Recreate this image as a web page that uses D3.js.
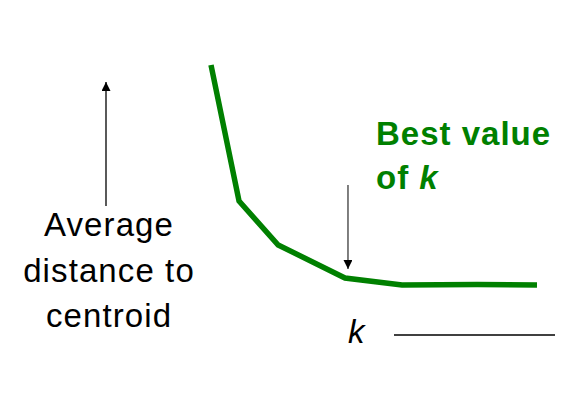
<!DOCTYPE html>
<html>
<head>
<meta charset="utf-8">
<script src="https://cdn.jsdelivr.net/npm/d3@7"></script>
<style>
  body { margin: 0; background: #fff; }
  text { font-family: "Liberation Sans", Arial, sans-serif; }
</style>
</head>
<body>
<div id="chart"></div>
<script>
// Elbow curve: relative position along k vs average distance to centroid
const kPos = [0, 8.6, 20.6, 41.1, 58.6, 81.6, 100]
const avgDist = [100, 38.2, 18.2, 3.2, 0, 0.2, 0]

const yLabel = ["Average", "distance to", "centroid"]
const bestLabel = ["Best value", "of "]
const bestK = 41.1

const width = 584
const height = 402
const green = '#008000'

const svg = d3.select('#chart')
    .append('svg')
    .attr('width', width)
    .attr('height', height)

// Scales
const x = d3.scaleLinear()
    .domain([0, 100])
    .range([211, 537])

const y = d3.scaleLinear()
    .domain([0, 100])
    .range([285, 65])

// Arrow heads
const defs = svg.append('defs')
defs.append('marker')
    .attr('id', 'head')
    .attr('viewBox', '0 0 10 10')
    .attr('refX', 10)
    .attr('refY', 5)
    .attr('markerWidth', 11)
    .attr('markerHeight', 9)
    .attr('markerUnits', 'userSpaceOnUse')
    .attr('orient', 'auto')
    .append('path')
    .attr('d', 'M0,0 L10,5 L0,10 Z')
    .attr('fill', '#000')

// Curve
const line = d3.line()
    .x((d, i) => x(kPos[i]))
    .y(d => y(d))

svg.append('path')
    .datum(avgDist)
    .attr('d', line)
    .attr('fill', 'none')
    .attr('stroke', green)
    .attr('stroke-width', 5.5)
    .attr('stroke-linejoin', 'miter')

// Y axis arrow + label
svg.append('line')
    .attr('x1', 106).attr('x2', 106)
    .attr('y1', 206).attr('y2', 82)
    .attr('stroke', '#000')
    .attr('stroke-width', 1.3)
    .attr('marker-end', 'url(#head)')

svg.append('text')
    .attr('text-anchor', 'middle')
    .attr('font-size', 33)
    .attr('letter-spacing', 1.1)
    .attr('fill', '#000')
    .selectAll('tspan')
    .data(yLabel)
    .join('tspan')
    .attr('x', 109)
    .attr('y', (d, i) => 236 + i * 45.5)
    .text(d => d)

// k axis
svg.append('line')
    .attr('x1', 394).attr('x2', 555)
    .attr('y1', 335).attr('y2', 335)
    .attr('stroke', '#000')
    .attr('stroke-width', 1.6)

svg.append('text')
    .attr('x', 348)
    .attr('y', 343)
    .attr('font-size', 33)
    .attr('font-style', 'italic')
    .text('k')

// Best value annotation
svg.append('line')
    .attr('x1', x(bestK) + 3).attr('x2', x(bestK) + 3)
    .attr('y1', 185).attr('y2', 269)
    .attr('stroke', '#000')
    .attr('stroke-width', 1)
    .attr('marker-end', 'url(#head)')

const best = svg.append('text')
    .attr('font-size', 33)
    .attr('font-weight', 'bold')
    .attr('letter-spacing', 1)
    .attr('fill', green)

bestLabel.forEach((t, i) => {
    best.append('tspan')
        .attr('x', 376)
        .attr('y', 145 + i * 44)
        .text(t)
})
best.append('tspan')
    .attr('font-style', 'italic')
    .text('k')
</script>
</body>
</html>
